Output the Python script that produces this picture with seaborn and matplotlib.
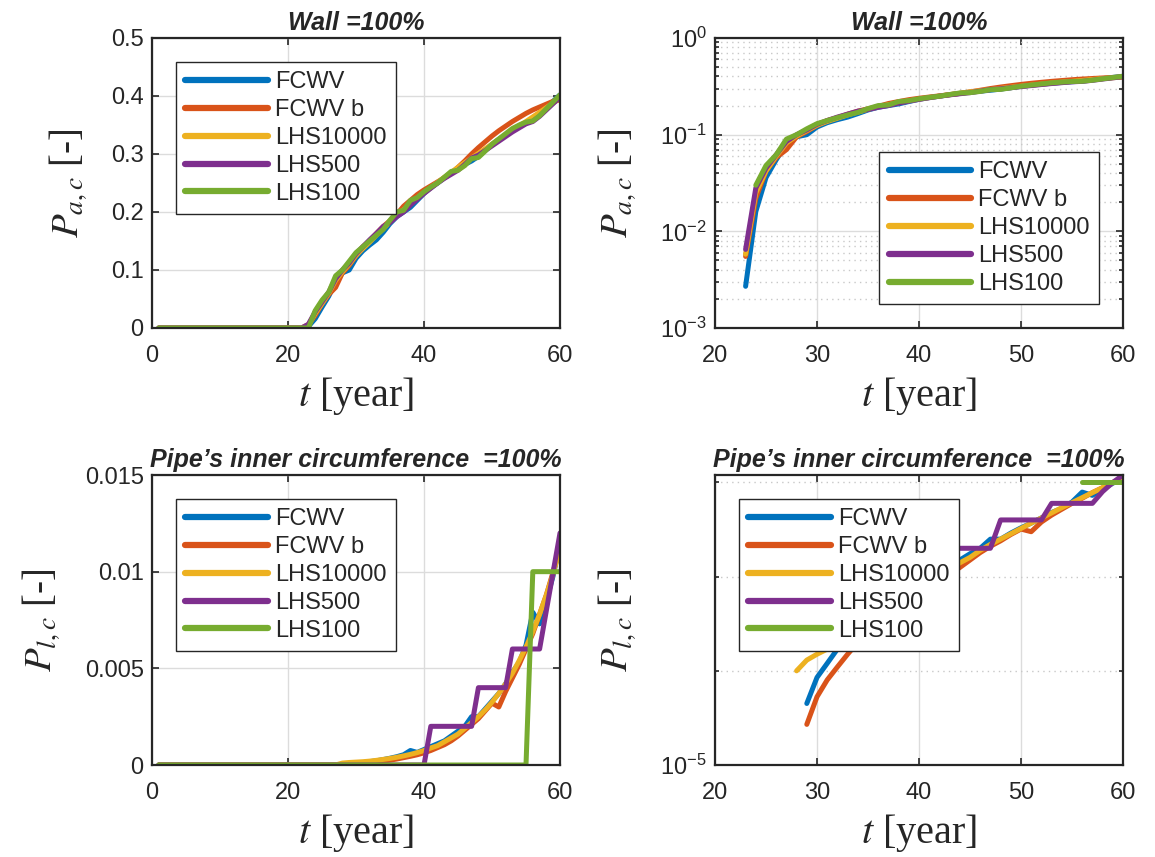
import numpy as np
import pandas as pd
import matplotlib
matplotlib.use('Agg')
import matplotlib.pyplot as plt
import seaborn as sns

sns.set_style('ticks')
plt.rcParams['font.family'] = ['Liberation Sans', 'DejaVu Sans']
plt.rcParams['mathtext.fontset'] = 'stix'

# time axis [year]
years = list(range(1, 61))
series_names = ['FCWV', 'FCWV b', 'LHS10000', 'LHS500', 'LHS100']
colors = ['#0072BD', '#D95319', '#EDB120', '#7E2F8E', '#77AC30']

# P_a,c  (wall), t = 1..60
pac_fcwv = [0, 0, 0, 0, 0, 0, 0, 0, 0, 0,
            0, 0, 0, 0, 0, 0, 0, 0, 0, 0,
            0, 0, 0.0027, 0.016, 0.036, 0.055, 0.080, 0.095, 0.100, 0.120,
            0.133, 0.143, 0.152, 0.165, 0.180, 0.192, 0.200, 0.208, 0.220, 0.232,
            0.242, 0.250, 0.259, 0.267, 0.275, 0.282, 0.288, 0.296, 0.306, 0.316,
            0.325, 0.333, 0.340, 0.347, 0.353, 0.358, 0.368, 0.380, 0.391, 0.402]
pac_fcwv_b = [0, 0, 0, 0, 0, 0, 0, 0, 0, 0,
              0, 0, 0, 0, 0, 0, 0, 0, 0, 0,
              0, 0, 0.0055, 0.022, 0.042, 0.058, 0.070, 0.095, 0.108, 0.125,
              0.140, 0.150, 0.163, 0.175, 0.185, 0.196, 0.210, 0.220, 0.230, 0.238,
              0.245, 0.252, 0.259, 0.267, 0.277, 0.288, 0.300, 0.311, 0.321, 0.331,
              0.340, 0.348, 0.356, 0.363, 0.370, 0.376, 0.381, 0.386, 0.391, 0.393]
pac_lhs10000 = [0, 0, 0, 0, 0, 0, 0, 0, 0, 0,
                0, 0, 0, 0, 0, 0, 0, 0, 0, 0,
                0, 0, 0.0058, 0.025, 0.042, 0.060, 0.082, 0.097, 0.110, 0.125,
                0.137, 0.148, 0.160, 0.171, 0.183, 0.194, 0.204, 0.214, 0.224, 0.233,
                0.242, 0.251, 0.260, 0.268, 0.277, 0.285, 0.293, 0.301, 0.309, 0.317,
                0.325, 0.333, 0.341, 0.349, 0.356, 0.364, 0.372, 0.380, 0.388, 0.396]
pac_lhs500 = [0, 0, 0, 0, 0, 0, 0, 0, 0, 0,
              0, 0, 0, 0, 0, 0, 0, 0, 0, 0,
              0, 0, 0.0065, 0.028, 0.045, 0.062, 0.085, 0.100, 0.112, 0.128,
              0.140, 0.152, 0.163, 0.175, 0.182, 0.192, 0.200, 0.212, 0.222, 0.232,
              0.241, 0.250, 0.258, 0.265, 0.272, 0.282, 0.293, 0.298, 0.306, 0.314,
              0.322, 0.330, 0.338, 0.345, 0.352, 0.356, 0.365, 0.376, 0.387, 0.398]
pac_lhs100 = [0, 0, 0, 0, 0, 0, 0, 0, 0, 0,
              0, 0, 0, 0, 0, 0, 0, 0, 0, 0,
              0, 0, 0, 0.030, 0.048, 0.062, 0.090, 0.100, 0.115, 0.130,
              0.140, 0.150, 0.160, 0.170, 0.186, 0.200, 0.203, 0.220, 0.225, 0.235,
              0.243, 0.250, 0.260, 0.270, 0.272, 0.280, 0.292, 0.294, 0.305, 0.317,
              0.326, 0.335, 0.344, 0.350, 0.355, 0.357, 0.366, 0.378, 0.390, 0.402]

# P_l,c  (pipe's inner circumference), t = 1..60
plc_fcwv = [0, 0, 0, 0, 0, 0, 0, 0, 0, 0,
            0, 0, 0, 0, 0, 0, 0, 0, 0, 0,
            0, 0, 0, 0, 0, 0, 0, 0, 4.5e-5, 8.5e-5,
            1.2e-4, 1.7e-4, 2.2e-4, 2.8e-4, 3.5e-4, 4.3e-4, 5.3e-4, 7.5e-4, 6.5e-4, 8.0e-4,
            9.5e-4, 1.1e-3, 1.25e-3, 1.5e-3, 1.75e-3, 2.0e-3, 2.5e-3, 2.5e-3, 2.9e-3, 3.3e-3,
            3.7e-3, 4.2e-3, 4.8e-3, 5.3e-3, 6.2e-3, 7.9e-3, 7.3e-3, 8.5e-3, 9.8e-3, 1.15e-2]
plc_fcwv_b = [0, 0, 0, 0, 0, 0, 0, 0, 0, 0,
              0, 0, 0, 0, 0, 0, 0, 0, 0, 0,
              0, 0, 0, 0, 0, 0, 0, 0, 2.7e-5, 5.3e-5,
              8.0e-5, 1.1e-4, 1.5e-4, 2.0e-4, 2.5e-4, 3.1e-4, 3.8e-4, 4.5e-4, 5.3e-4, 6.3e-4,
              7.5e-4, 9.0e-4, 1.05e-3, 1.25e-3, 1.5e-3, 1.8e-3, 2.1e-3, 2.4e-3, 2.8e-3, 3.2e-3,
              3.0e-3, 3.8e-3, 4.5e-3, 5.2e-3, 6.0e-3, 6.8e-3, 7.8e-3, 8.8e-3, 1.0e-2, 1.13e-2]
plc_lhs10000 = [0, 0, 0, 0, 0, 0, 0, 0, 0, 0,
                0, 0, 0, 0, 0, 0, 0, 0, 0, 0,
                0, 0, 0, 0, 0, 0, 0, 1.0e-4, 1.3e-4, 1.5e-4,
                1.7e-4, 2.0e-4, 2.4e-4, 2.9e-4, 3.4e-4, 4.0e-4, 4.7e-4, 5.5e-4, 6.4e-4, 7.5e-4,
                8.8e-4, 1.0e-3, 1.2e-3, 1.4e-3, 1.6e-3, 1.9e-3, 2.2e-3, 2.5e-3, 2.85e-3, 3.25e-3,
                3.7e-3, 4.2e-3, 4.75e-3, 5.4e-3, 6.1e-3, 6.9e-3, 7.8e-3, 8.8e-3, 9.9e-3, 1.12e-2]
plc_lhs500 = [0, 0, 0, 0, 0, 0, 0, 0, 0, 0,
              0, 0, 0, 0, 0, 0, 0, 0, 0, 0,
              0, 0, 0, 0, 0, 0, 0, 0, 0, 0,
              0, 0, 0, 0, 0, 0, 0, 0, 0, 0,
              0.002, 0.002, 0.002, 0.002, 0.002, 0.002, 0.002, 0.004, 0.004, 0.004,
              0.004, 0.004, 0.006, 0.006, 0.006, 0.006, 0.006, 0.008, 0.010, 0.012]
plc_lhs100 = [0, 0, 0, 0, 0, 0, 0, 0, 0, 0,
              0, 0, 0, 0, 0, 0, 0, 0, 0, 0,
              0, 0, 0, 0, 0, 0, 0, 0, 0, 0,
              0, 0, 0, 0, 0, 0, 0, 0, 0, 0,
              0, 0, 0, 0, 0, 0, 0, 0, 0, 0,
              0, 0, 0, 0, 0, 0.01, 0.01, 0.01, 0.01, 0.01]

pac = [pac_fcwv, pac_fcwv_b, pac_lhs10000, pac_lhs500, pac_lhs100]
plc = [plc_fcwv, plc_fcwv_b, plc_lhs10000, plc_lhs500, plc_lhs100]


def to_long(values):
    frames = []
    for name, vals in zip(series_names, values):
        frames.append(pd.DataFrame({'t': years, 'P': vals, 'series': name}))
    return pd.concat(frames, ignore_index=True)


df_pac = to_long(pac)
df_plc = to_long(plc)

fig = plt.figure(figsize=(11.55, 8.57), dpi=100)
W, H = 1155, 857


def add_ax(left, top, right, bottom):
    return fig.add_axes([left / W, (H - bottom) / H, (right - left) / W, (bottom - top) / H])


ax1 = add_ax(152, 38, 560, 328)
ax2 = add_ax(715, 38, 1123, 328)
ax3 = add_ax(152, 475, 560, 765)
ax4 = add_ax(715, 475, 1123, 765)

axes_spec = [
    (ax1, df_pac, False, r'$P_{a,c}$ [-]', 'Wall =100%', 'upper left'),
    (ax2, df_pac, True, r'$P_{a,c}$ [-]', 'Wall =100%', 'lower right'),
    (ax3, df_plc, False, r'$P_{l,c}$ [-]', 'Pipe\u2019s inner circumference  =100%', 'upper left'),
    (ax4, df_plc, True, r'$P_{l,c}$ [-]', 'Pipe\u2019s inner circumference  =100%', 'upper left'),
]

for ax, df, logy, ylab, title, loc in axes_spec:
    if logy:
        df = df[df['P'] > 0]
        ax.set_yscale('log')
    sns.lineplot(data=df, x='t', y='P', hue='series', hue_order=series_names,
                 palette=colors, linewidth=3.6, estimator=None, sort=True, ax=ax)

    ax.grid(True, which='major', color='#dcdcdc', linewidth=1.0)
    ax.set_axisbelow(True)
    for sp in ax.spines.values():
        sp.set_color('#262626')
        sp.set_linewidth(1.6)
    ax.tick_params(which='both', direction='in', top=True, right=True,
                   labelsize=17, colors='#262626', length=5, width=1.2)
    ax.tick_params(which='minor', length=3)
    ax.tick_params(axis='x', pad=12)
    ax.tick_params(axis='y', pad=6)

    ax.set_title(title, fontsize=18, fontweight='bold', fontstyle='italic', pad=6)
    ax.set_xlabel(r'$t$ [year]', fontsize=29, family='Liberation Serif', labelpad=6)
    ax.set_ylabel(ylab, fontsize=28, family='Liberation Serif', labelpad=16)

    leg = ax.legend(loc=loc, fontsize=17, handlelength=3.5, handletextpad=0.3,
                    labelspacing=0.25, borderpad=0.4, fancybox=False, framealpha=1,
                    borderaxespad=1.0)
    leg.get_frame().set_edgecolor('#262626')
    leg.get_frame().set_linewidth(1.0)
    for line in leg.get_lines():
        line.set_linewidth(4.5)

# top-left: linear P_a,c
ax1.set_xlim(0, 60)
ax1.set_ylim(0, 0.5)
ax1.set_xticks([0, 20, 40, 60])
ax1.set_yticks([0, 0.1, 0.2, 0.3, 0.4, 0.5])
ax1.set_yticklabels(['0', '0.1', '0.2', '0.3', '0.4', '0.5'])

# top-right: log P_a,c
ax2.set_xlim(20, 60)
ax2.set_ylim(1e-3, 1)
ax2.set_xticks([20, 30, 40, 50, 60])
ax2.set_yticks([1e-3, 1e-2, 1e-1, 1])
ax2.yaxis.set_minor_locator(matplotlib.ticker.LogLocator(base=10, subs=np.arange(2, 10)))
ax2.yaxis.set_minor_formatter(matplotlib.ticker.NullFormatter())
ax2.grid(True, which='minor', axis='y', color='#c8c8c8', linestyle=(0, (1, 3)), linewidth=1.0)

# bottom-left: linear P_l,c
ax3.set_xlim(0, 60)
ax3.set_ylim(0, 0.015)
ax3.set_xticks([0, 20, 40, 60])
ax3.set_yticks([0, 0.005, 0.01, 0.015])
ax3.set_yticklabels(['0', '0.005', '0.01', '0.015'])

# bottom-right: log P_l,c
ax4.set_xlim(20, 60)
ax4.set_ylim(1e-5, 0.012)
ax4.set_xticks([20, 30, 40, 50, 60])
ax4.set_yticks([1e-5])
ax4.set_yticks([1e-4, 1e-3, 1e-2], minor=True)
ax4.yaxis.set_minor_formatter(matplotlib.ticker.NullFormatter())
ax4.grid(False, axis='y', which='major')
ax4.grid(True, which='minor', axis='y', color='#c8c8c8', linestyle=(0, (1, 3)), linewidth=1.0)

fig.savefig('out.png', dpi=100)
